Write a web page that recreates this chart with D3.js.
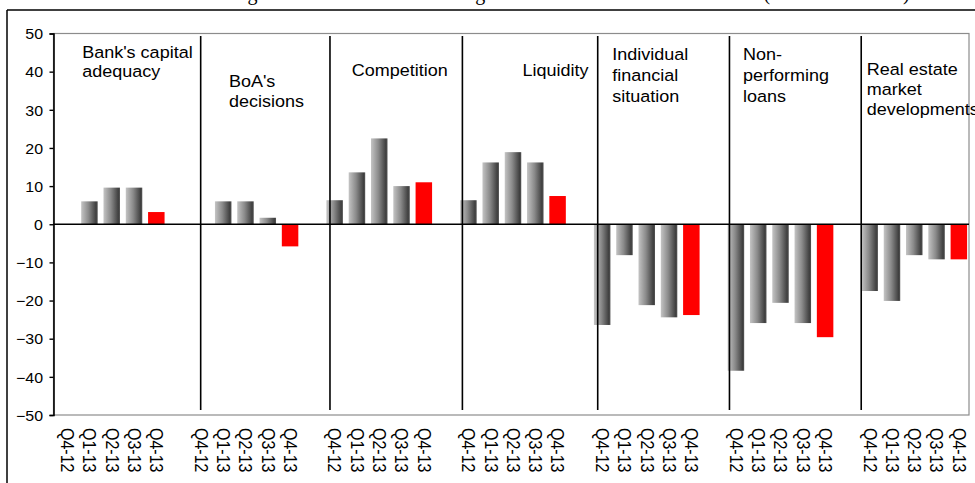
<!DOCTYPE html>
<html>
<head>
<meta charset="utf-8">
<script src="https://cdn.jsdelivr.net/npm/d3@7"></script>
<style>
  html, body { margin: 0; padding: 0; background: #fff; overflow: hidden; }
  svg { display: block; font-family: "Liberation Sans", Arial, sans-serif; }
</style>
</head>
<body>
<svg id="chart" width="975" height="483"></svg>
<script>
// Factor groups (each gets five quarterly bars)
const categories = [
  "Bank's capital adequacy",
  "BoA's decisions",
  "Competition",
  "Liquidity",
  "Individual financial situation",
  "Non-performing loans",
  "Real estate market developments"
];
// How each group title is broken into lines
const categoryLines = [
  ["Bank's capital", "adequacy"],
  ["BoA's", "decisions"],
  ["Competition"],
  ["Liquidity"],
  ["Individual", "financial", "situation"],
  ["Non-", "performing", "loans"],
  ["Real estate", "market", "developments"]
];
const quarters = ["Q4-12", "Q1-13", "Q2-13", "Q3-13", "Q4-13"];

// Net balances per quarter, one value per factor group
const q4_12 = [0, 0, 6.3, 6.3, -26.4, -38.4, -17.5];
const q1_13 = [6.0, 6.0, 13.6, 16.2, -8.1, -25.9, -20.1];
const q2_13 = [9.6, 6.0, 22.5, 18.9, -21.2, -20.6, -8.1];
const q3_13 = [9.6, 1.7, 10.0, 16.2, -24.4, -25.9, -9.2];
const q4_13 = [3.2, -5.8, 11.0, 7.4, -23.8, -29.6, -9.2];
const seriesByQuarter = [q4_12, q1_13, q2_13, q3_13, q4_13];

const yTicks = [50, 40, 30, 20, 10, 0, -10, -20, -30, -40, -50];

// ---- layout ----
const W = 975, H = 483;
const plot = { left: 53.5, right: 969, top: 33.5, bottom: 415 };
// Group title placement: offset from the group's first bar centre, first baseline, line step
const titleLayout = [
  { dx: 15, y: 58, step: 19.5 },
  { dx: 28, y: 87, step: 20 },
  { dx: 17, y: 76, step: 20 },
  { dx: 54, y: 76, step: 20 },
  { dx: 10, y: 60, step: 21 },
  { dx: 7, y: 60, step: 21 },
  { dx: -3, y: 75, step: 20 }
];
// Group divider lines, in category-slot units
const dividerSlots = [5.99, 11.79, 17.73, 23.8, 29.71, 35.62];
const textStretch = 1.1;
const titleStretch = 1.06;

// Slots: five quarters per group, a blank slot between groups
const slots = [];
categories.forEach((c, g) => {
  quarters.forEach((q, i) => slots.push({ key: g + "|" + i, g, i, quarter: q }));
  if (g < categories.length - 1) slots.push({ key: "gap" + g, g, i: -1, quarter: "" });
});

const bars = [];
categories.forEach((c, g) => {
  quarters.forEach((q, i) => bars.push({ key: g + "|" + i, g, i, value: seriesByQuarter[i][g] }));
});

const svg = d3.select("#chart");

const x = d3.scaleBand()
  .domain(slots.map(d => d.key))
  .range([56, 970])
  .paddingInner(0.26)
  .paddingOuter(0.13);

const slotCenter = d3.scaleLinear()
  .domain([0, 1])
  .range([x(slots[0].key) + x.bandwidth() / 2, x(slots[1].key) + x.bandwidth() / 2]);

const y = d3.scaleLinear().domain([-50, 50]).range([plot.bottom, plot.top]);

// Bar shading
const defs = svg.append("defs");
const grad = defs.append("linearGradient").attr("id", "barGrey")
  .attr("x1", "0%").attr("x2", "100%").attr("y1", "0%").attr("y2", "0%");
grad.append("stop").attr("offset", "0%").attr("stop-color", "#c4c4c4");
grad.append("stop").attr("offset", "45%").attr("stop-color", "#8a8a8a");
grad.append("stop").attr("offset", "90%").attr("stop-color", "#3f3f3f");
grad.append("stop").attr("offset", "100%").attr("stop-color", "#555");

// Outer frame (top and left edges visible)
svg.append("line").attr("x1", 7).attr("x2", W).attr("y1", 10).attr("y2", 10)
  .attr("stroke", "#000").attr("stroke-width", 1.5);
svg.append("line").attr("x1", 7).attr("x2", 7).attr("y1", 10).attr("y2", H)
  .attr("stroke", "#000").attr("stroke-width", 1.5);

// Title (mostly above the visible area)
svg.append("text")
  .attr("x", 123).attr("y", -0.5)
  .attr("font-family", "'Liberation Serif', 'Times New Roman', serif")
  .attr("font-size", 20)
  .text("Factors affecting credit standards for housing loans to households and the firms (net balance in %)");

// Plot area border
svg.append("rect")
  .attr("x", plot.left).attr("y", plot.top)
  .attr("width", plot.right - plot.left).attr("height", plot.bottom - plot.top)
  .attr("fill", "none").attr("stroke", "#8c8c8c").attr("stroke-width", 1.2);

// Bars
svg.append("g").selectAll("rect")
  .data(bars)
  .join("rect")
  .attr("x", d => x(d.key))
  .attr("width", x.bandwidth())
  .attr("y", d => y(Math.max(0, d.value)))
  .attr("height", d => Math.abs(y(d.value) - y(0)))
  .attr("fill", d => d.i === quarters.length - 1 ? "#ff0000" : "url(#barGrey)");

// Group dividers
svg.append("g").selectAll("line")
  .data(dividerSlots)
  .join("line")
  .attr("x1", d => slotCenter(d)).attr("x2", d => slotCenter(d))
  .attr("y1", 36).attr("y2", 410)
  .attr("stroke", "#000").attr("stroke-width", 1.6);

// Zero line
svg.append("line")
  .attr("x1", plot.left).attr("x2", plot.right)
  .attr("y1", y(0)).attr("y2", y(0))
  .attr("stroke", "#000").attr("stroke-width", 1.6);

// Y axis
const yAxis = d3.axisLeft(y).tickValues(yTicks).tickSize(4).tickPadding(7);
const yg = svg.append("g").attr("transform", `translate(${plot.left},0)`).call(yAxis);
yg.select(".domain").attr("stroke", "#000").attr("stroke-width", 1.6);
yg.selectAll(".tick line").attr("stroke", "#000").attr("stroke-width", 1.4);
yg.selectAll(".tick text")
  .attr("font-size", 14.5)
  .attr("font-family", "'Liberation Sans', Arial, sans-serif")
  .attr("fill", "#000")
  .attr("x", null).attr("dy", null)
  .attr("transform", `translate(-10.5,0) scale(${textStretch},1)`)
  .attr("dominant-baseline", "central");

// Quarter labels, rotated to read downward
svg.append("g").selectAll("text")
  .data(slots.filter(d => d.i >= 0))
  .join("text")
  .attr("transform", d => `translate(${x(d.key) + x.bandwidth() / 2},428) scale(${textStretch},1) rotate(90)`)
  .attr("dy", "0.35em")
  .attr("font-size", 16)
  .attr("fill", "#000")
  .text(d => d.quarter);

// Group titles
categories.forEach((c, g) => {
  const L = titleLayout[g];
  const x0 = x(g + "|0") + x.bandwidth() / 2 + L.dx;
  const t = svg.append("text")
    .attr("transform", `translate(${x0},${L.y}) scale(${titleStretch},1)`)
    .attr("font-size", 17)
    .attr("fill", "#000");
  categoryLines[g].forEach((line, k) => {
    t.append("tspan").attr("x", 0).attr("y", k * L.step).text(line);
  });
});
</script>
</body>
</html>
